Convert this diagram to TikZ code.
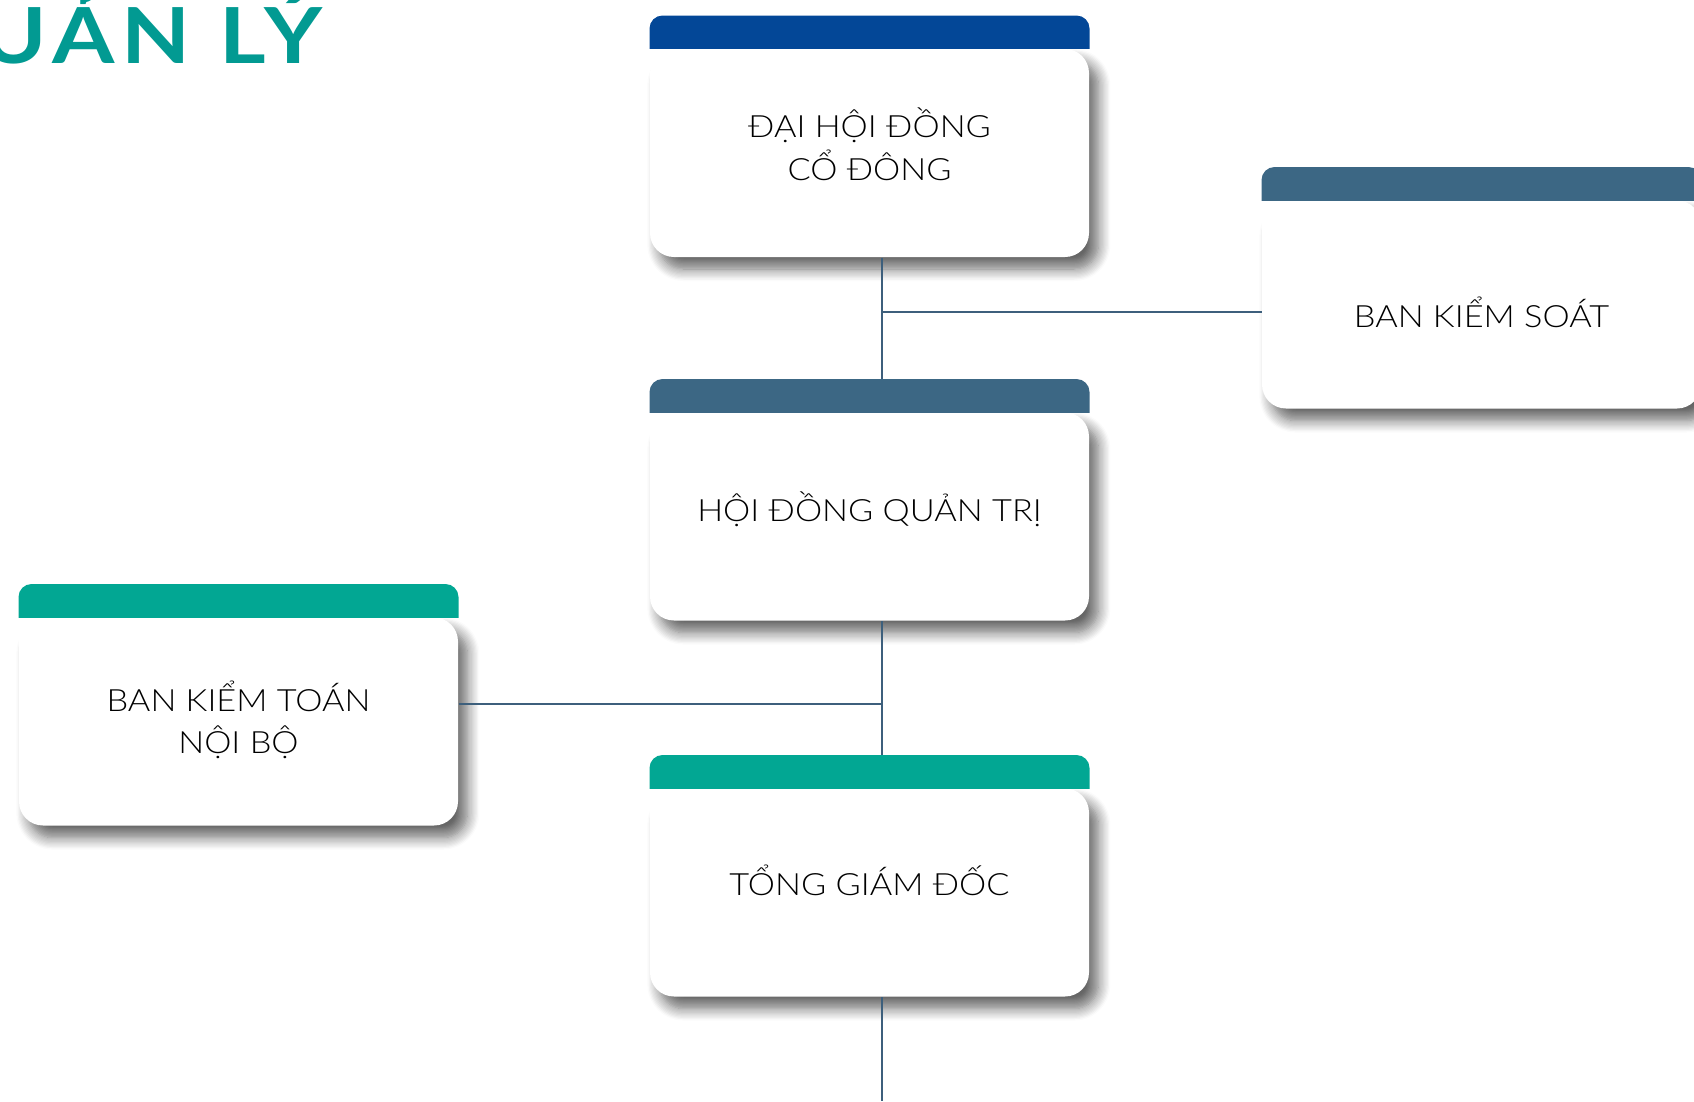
\documentclass[tikz,border=0pt]{standalone}
\usepackage{fontspec}
\setmainfont{Lato Light}[FakeStretch=1.12]
\newfontfamily\titlefont{Lato}[FakeStretch=1.16, LetterSpace=9]
\usetikzlibrary{calc,shadows.blur}

\definecolor{hdrblue}{RGB}{3,71,151}
\definecolor{hdrslate}{RGB}{60,103,132}
\definecolor{hdrteal}{RGB}{2,167,147}
\definecolor{linkblue}{RGB}{61,95,124}
\definecolor{ttlteal}{RGB}{2,154,146}

\tikzset{every picture/.style={line width=0.75pt}}
\tikzset{
  card/.style={rectangle, fill=white, rounded corners=18pt, minimum width=329.25pt, minimum height=156pt,
    inner sep=0pt,
    blur shadow={shadow xshift=7pt, shadow yshift=-9pt, shadow blur radius=9pt, shadow blur steps=10, shadow opacity=60}},
  cardtext/.style={inner sep=0pt, align=center, font=\fontsize{23pt}{32pt}\selectfont, text=black},
  link/.style={draw=linkblue, line width=1.75pt},
}

% coloured strip on top of a card
\newcommand{\cardhead}[2]{%
  \coordinate (#1-top) at ($(#1.north)+(0,-33)$);
  \begin{scope}
    \clip ($(#1.north west)+(0,-33)$) rectangle (#1.north east);
    \fill[#2, rounded corners=9.75pt] ($(#1.north west)+(0,-33)$) rectangle ($(#1.north east)+(0,20)$);
  \end{scope}}

\begin{document}
\begin{tikzpicture}[x=0.75pt,y=0.75pt,yscale=-1,xscale=1]
\useasboundingbox (0,0) rectangle (1694,1101);
\clip (0,0) rectangle (1694,1101);

% Title
\node (title) [anchor=base east, inner sep=0pt, text=ttlteal, font=\titlefont\bfseries\fontsize{58pt}{58pt}\selectfont] at (323,63) {QUẢN LÝ};

%Cards
\node (dhdcd) [card] at (869.5,153) {};
\cardhead{dhdcd}{hdrblue}
\node (bks) [card] at (1481.5,304.5) {};
\cardhead{bks}{hdrslate}
\node (hdqt) [card] at (869.5,516.5) {};
\cardhead{hdqt}{hdrslate}
\node (bktnb) [card] at (238.5,721.5) {};
\cardhead{bktnb}{hdrteal}
\node (tgd) [card] at (869.5,892.5) {};
\cardhead{tgd}{hdrteal}

% Text Node
\node (dhdcd-txt) [cardtext] at ($(dhdcd)+(0,-9)$) {ĐẠI HỘI ĐỒNG\\CỔ ĐÔNG};
% Text Node
\node (bks-txt) [cardtext] at ($(bks)+(0,7.5)$) {BAN KIỂM SOÁT};
% Text Node
\node (hdqt-txt) [cardtext] at ($(hdqt)+(0,-7.5)$) {HỘI ĐỒNG QUẢN TRỊ};
% Text Node
\node (bktnb-txt) [cardtext] at ($(bktnb)+(0,-1.5)$) {BAN KIỂM TOÁN\\NỘI BỘ};
% Text Node
\node (tgd-txt) [cardtext] at ($(tgd)+(0,-12.5)$) {TỔNG GIÁM ĐỐC};

%Connectors
\coordinate (trunk) at (882,0);
\coordinate (j1) at (882,312);
\coordinate (j2) at (882,704);
\coordinate (tail) at (882,1101);
\draw [link] (dhdcd.south -| trunk) -- (hdqt-top -| trunk);
\draw [link] (j1) -- (j1 -| bks.west);
\draw [link] (hdqt.south -| trunk) -- (tgd-top -| trunk);
\draw [link] (j2 -| bktnb.east) -- (j2);
\draw [link] (tgd.south -| trunk) -- (tail);

\end{tikzpicture}
\end{document}
